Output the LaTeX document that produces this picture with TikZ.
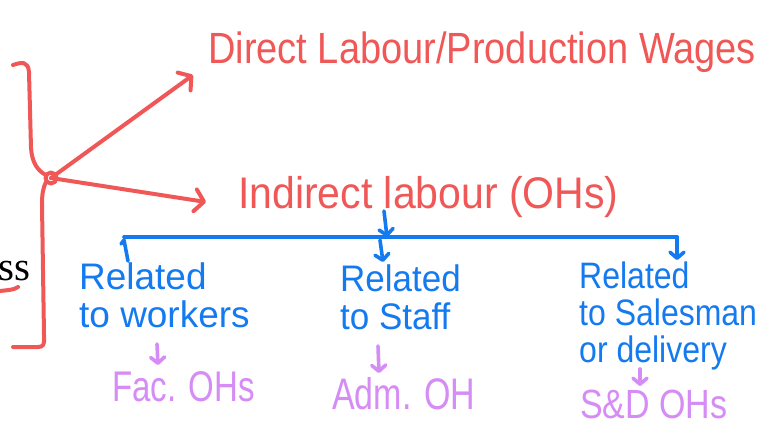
\documentclass[tikz,border=0pt]{standalone}
\usepackage{fontspec}
\usepackage{graphicx}
\setmainfont{Liberation Serif}
\newfontfamily\handfont{Liberation Sans}
\usetikzlibrary{arrows.meta}
\definecolor{inkred}{RGB}{240,88,88}
\definecolor{inkblue}{RGB}{20,122,240}
\definecolor{inkviolet}{RGB}{214,140,245}
% stretch a piece of text: horizontal factor, vertical factor, text
\newcommand\handText[3]{\scalebox{#1}[#2]{#3}}
% fixed line spacing for stacked labels
\newcommand\tightLines{\lineskiplimit=-40pt\relax}
\begin{document}
\begin{tikzpicture}[x=1pt,y=-1pt,
  pen/.style={line width=4pt,line cap=round,line join=round},
  redpen/.style={pen,draw=inkred},
  bluepen/.style={pen,draw=inkblue,line width=3.6pt},
  violetpen/.style={pen,draw=inkviolet,line width=3.6pt},
  redtip/.style={-{Straight Barb[length=9pt,width=22pt,round]}},
  smalltip/.style={-{Straight Barb[length=6pt,width=14pt,round]}},
  hand/.style={inner sep=0pt,font=\handfont},
  redtext/.style={hand,text=inkred},
  bluetext/.style={hand,text=inkblue,align=left},
  violettext/.style={hand,text=inkviolet}
]
\fill[white] (0,0) rectangle (776,426);
\useasboundingbox (0,0) rectangle (776,426);

% word cut at the left edge, with its underline stroke
\node[inner sep=0pt,font=\fontsize{41}{48}\selectfont,anchor=base east] (ss) at (31,280) {ss};
\draw[redpen] (0,291) .. controls (8,290) and (14,290) .. (18,287);

% curly bracket with the branching point
\coordinate (junction) at (51,178);
\draw[redpen] (13,65) .. controls (22,62) and (28,61) .. (29,72)
  -- (31,148) .. controls (32,163) and (38,171) .. (46,175);
\draw[redpen] (junction) circle[radius=5.5];
\draw[redpen] (46,182) .. controls (43,188) and (42,194) .. (42,205)
  -- (44,335) .. controls (45,345) and (43,347) .. (38,347) -- (13,347);

% top level headings
\node[redtext,font=\handfont\fontsize{38}{40}\selectfont,anchor=base west] (direct) at (208,63) {\handText{1}{1.15}{Direct Labour/Production Wages}};
\node[redtext,font=\handfont\fontsize{41}{44}\selectfont,anchor=base west] (indirect) at (238,208) {\handText{1}{1.08}{Indirect labour (OHs)}};

\coordinate (directtip) at (193,75);
\coordinate (indirecttip) at (206,202);
\draw[redpen,redtip] (junction) -- (directtip);
\draw[redpen,redtip] (junction) -- (indirecttip);

% distribution bar
\coordinate (barleft) at (124,237);
\coordinate (barright) at (677,237);
\coordinate (barmid) at (387,237);
\coordinate (feed) at (384,211);
\draw[bluepen] (barleft) -- (barright);
\draw[bluepen,smalltip] (feed) -- (barmid);
\draw[bluepen] (barleft) ++(0,3) -- ++(4,21) (barleft) ++(0,3) -- ++(-3,4);
\coordinate (midtip) at (383,262);
\coordinate (righttip) at (677,260);
\draw[bluepen,smalltip] (barmid) ++(-7,3) -- (midtip);
\draw[bluepen,smalltip] (barright) -- (righttip);

% categories
\node[bluetext,font={\handfont\fontsize{33}{38}\selectfont\tightLines},anchor=north west] (workers) at (79,263)
  {\handText{1.12}{1.12}{Related}\\\handText{1.12}{1.12}{to workers}};
\node[bluetext,font={\handfont\fontsize{33}{38}\selectfont\tightLines},anchor=north west] (staff) at (340,265)
  {\handText{1.06}{1.12}{Related}\\\handText{1.06}{1.12}{to Staff}};
\node[bluetext,font={\handfont\fontsize{32}{37}\selectfont\tightLines},anchor=north west] (sales) at (579,262)
  {\handText{1}{1.15}{Related}\\\handText{1}{1.15}{to Salesman}\\\handText{1}{1.15}{or delivery}};

% overhead types
\node[violettext,font=\handfont\fontsize{33}{36}\selectfont,anchor=base west] (fac) at (112,401) {\handText{1}{1.3}{Fac. OHs}};
\node[violettext,font=\handfont\fontsize{34}{36}\selectfont,anchor=base west] (adm) at (332,409) {\handText{1}{1.3}{Adm. OH}};
\node[violettext,font=\handfont\fontsize{34}{36}\selectfont,anchor=base west] (sd) at (580,418) {\handText{1}{1.2}{S\&D OHs}};

\coordinate (facin) at (157,344);
\coordinate (facout) at (158,365);
\coordinate (admin) at (378,346);
\coordinate (admout) at (379,373);
\coordinate (sdin) at (640,369);
\coordinate (sdout) at (640,386);
\draw[violetpen,smalltip] (facin) -- (facout);
\draw[violetpen,smalltip] (admin) -- (admout);
\draw[violetpen,smalltip] (sdin) -- (sdout);
\end{tikzpicture}
\end{document}
